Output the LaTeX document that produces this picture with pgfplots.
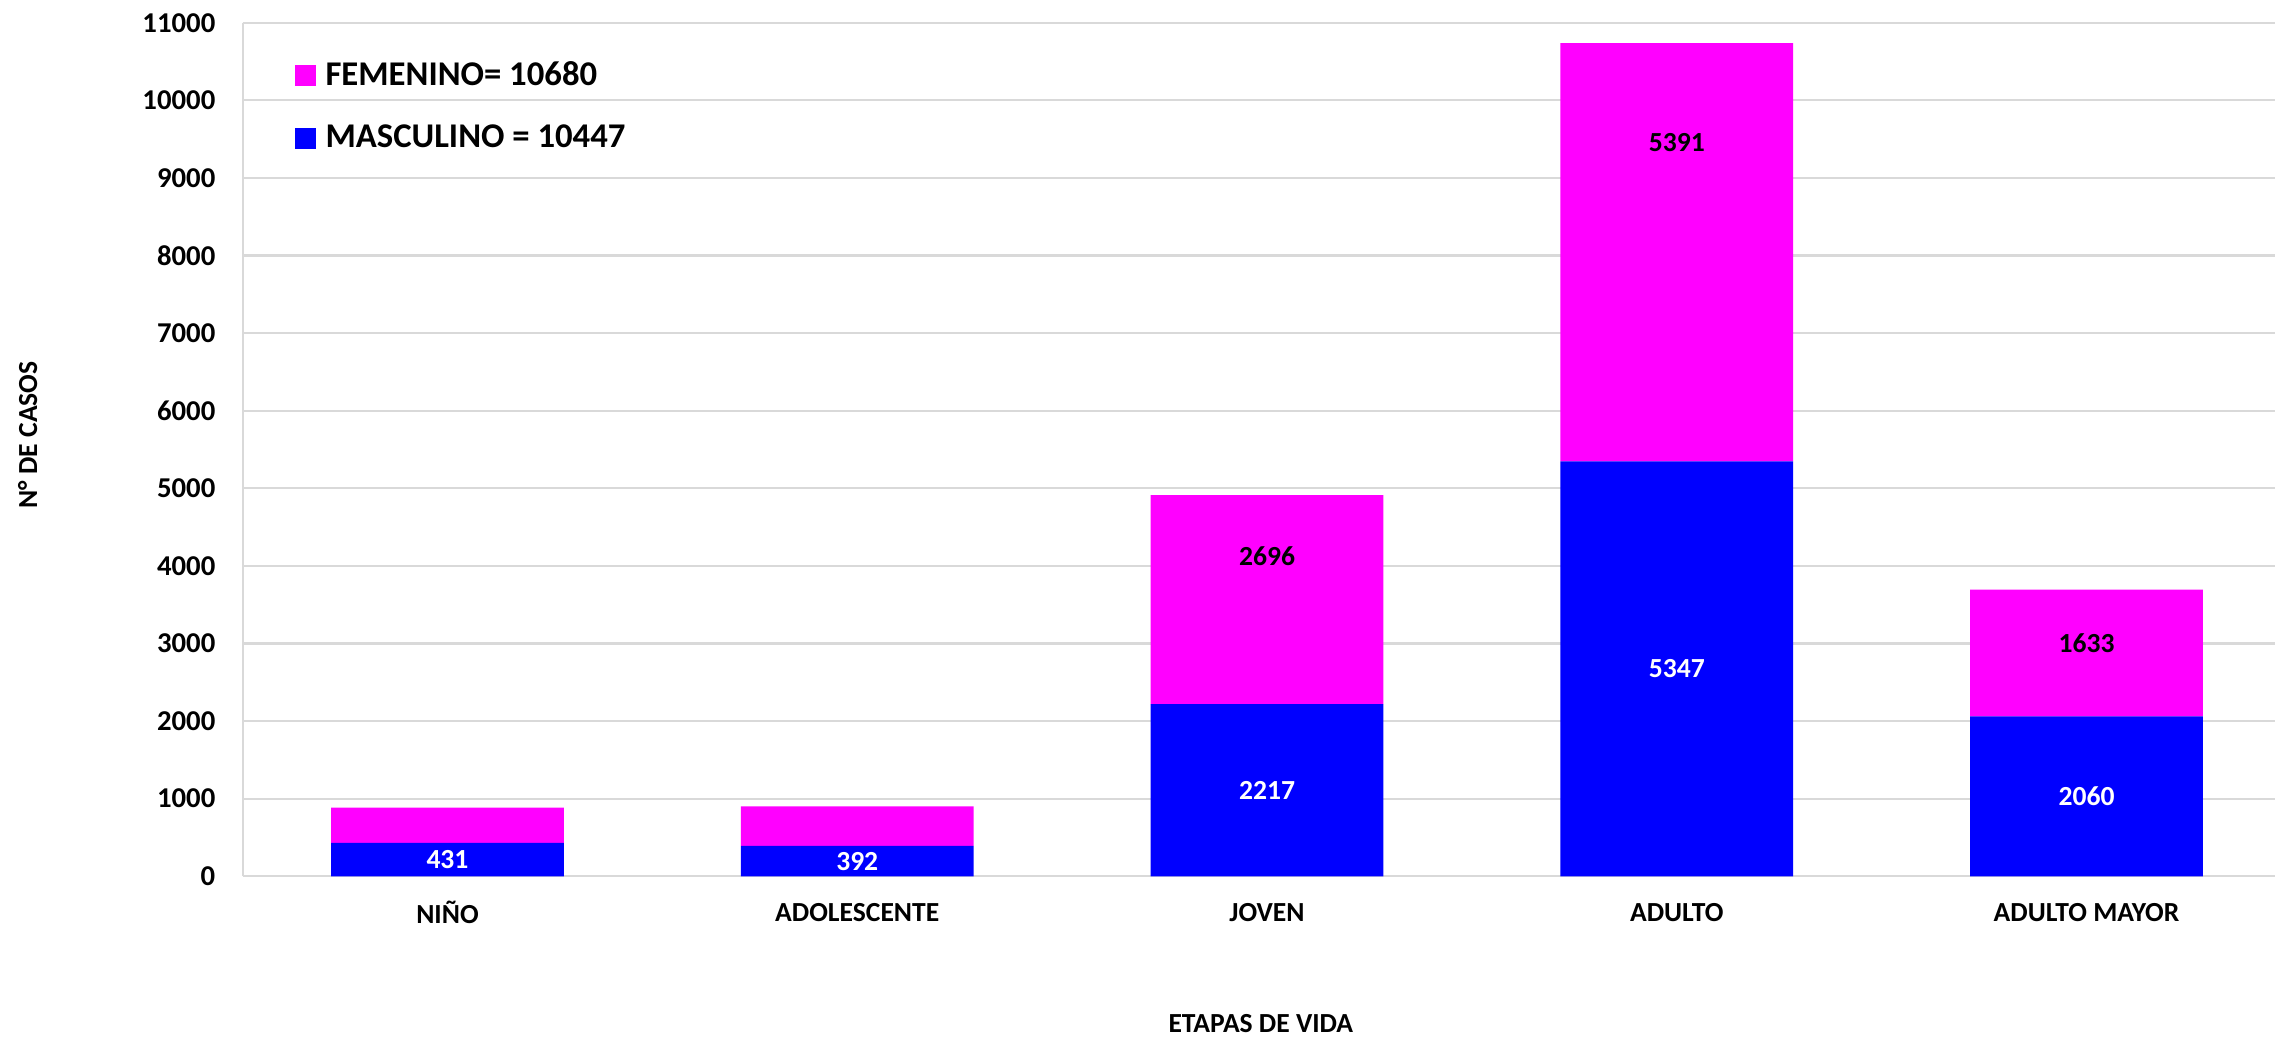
\documentclass[border=0pt]{standalone}
\usepackage{fontspec}
\setmainfont{Carlito}
\usepackage{pgfplots}
\usepackage{pgfplotstable}
\pgfplotsset{compat=1.18}

\definecolor{fem}{HTML}{FF00FF}
\definecolor{masc}{HTML}{0000FF}
\definecolor{grid}{HTML}{D9D9D9}

% off = how far the value label sits above the middle of its segment
\pgfplotstableread{
x m lab off
0 431 431 0
1 392 392 0
2 2217 2217 0
3 5347 5347 0
4 2060 2060 0
}\masculino
\pgfplotstableread{
x f lab off
0 452 {} 0
1 508 {} 0
2 2696 2696 559
3 5391 5391 1407
4 1633 1633 128
}\femenino

\newcommand{\lbl}{\fontsize{9.7}{11.6}\selectfont\bfseries}

\begin{document}
\begin{tikzpicture}
\begin{axis}[
    scale only axis,
    width=714.6pt, height=300.1pt,
    ybar stacked,
    bar width=0.568,
    xmin=-0.5, xmax=4.46,
    ymin=0, ymax=11000,
    enlargelimits=false,
    xtick={0,1,2,3,4},
    xticklabels={NIÑO,ADOLESCENTE,JOVEN,ADULTO,ADULTO MAYOR},
    ytick={0,1000,...,11000},
    scaled y ticks=false,
    /pgf/number format/1000 sep={},
    /pgf/number format/assume math mode=true,
    major tick length=0pt,
    axis x line*=bottom,
    axis y line*=left,
    x axis line style={draw=none, -},
    y axis line style={draw=grid, line width=0.75pt, -},
    ymajorgrids=true,
    grid style={draw=grid, line width=0.75pt},
    ticklabel style={font=\lbl},
    yticklabel style={anchor=east, inner sep=0pt, xshift=-9.4pt, font=\fontsize{10.1}{12}\selectfont\bfseries},
    xticklabel style={anchor=center, inner sep=0pt, yshift=-12.7pt},
    xlabel={ETAPAS DE VIDA},
    ylabel={N° DE CASOS},
    xlabel style={font=\lbl, at={(axis description cs:0.501,-0.172)}, anchor=center},
    ylabel style={font=\lbl, at={(axis description cs:-0.1057,0.517)}, anchor=center, rotate=0},
    reverse legend,
    legend style={at={(axis description cs:0.0215,0.962)}, anchor=north west,
        draw=none, fill=none, font=\fontsize{12.2}{14.6}\selectfont\bfseries,
        nodes={inner sep=0pt}, row sep=12.4pt, column sep=3.2pt},
    legend cell align=left,
    legend image code/.code={\fill[#1] (0pt,-3.7pt) rectangle (7.4pt,3.7pt);},
    nodes near coords,
    point meta=explicit symbolic,
    nodes near coords style={font=\lbl, anchor=center, inner sep=0pt},
    visualization depends on={\thisrow{off} \as \off},
    every node near coord/.append style={shift={(axis direction cs:0,\off)}},
]
\addplot[fill=masc, draw=none, nodes near coords style={text=white}]
    table[x=x, y=m, meta=lab] {\masculino};
\addplot[fill=fem, draw=none, nodes near coords style={text=black}]
    table[x=x, y=f, meta=lab] {\femenino};
\legend{MASCULINO = 10447, FEMENINO= 10680}
\end{axis}
\pgfresetboundingbox
\useasboundingbox (-85.3pt,-57.7pt) rectangle (714.6pt,308.1pt);
\end{tikzpicture}
\end{document}
